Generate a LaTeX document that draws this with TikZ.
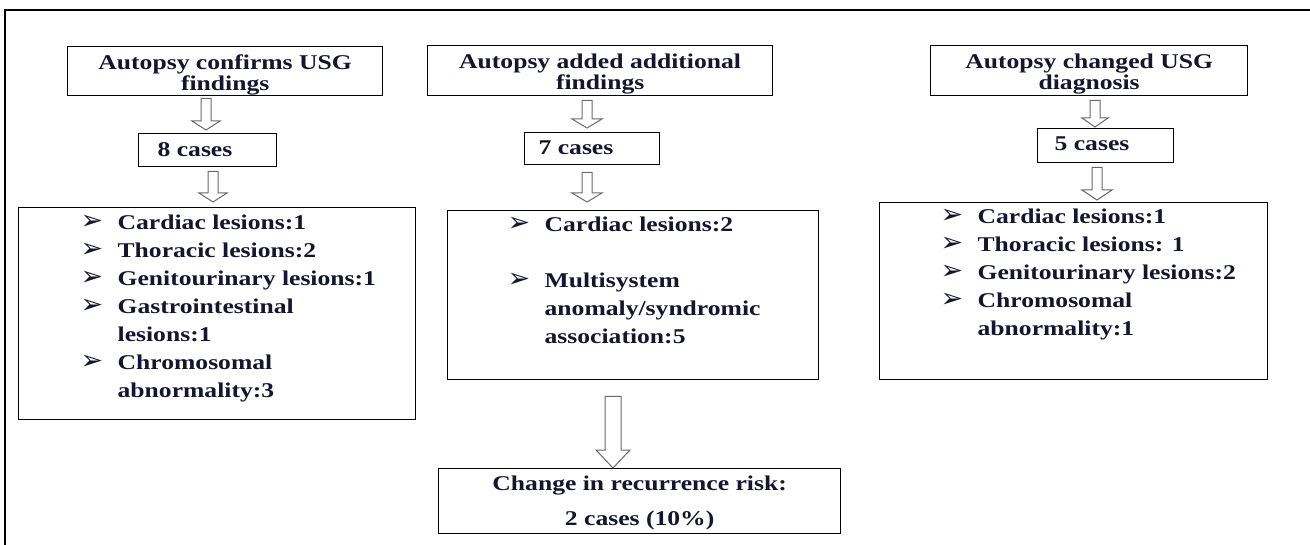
\documentclass[tikz,border=0pt]{standalone}
\usepackage{fontspec}
\setmainfont{Liberation Serif}[FakeStretch=1.22]
\newfontfamily\dingfont{DejaVu Sans}
\usetikzlibrary{calc}
\definecolor{txt}{HTML}{151530}
\definecolor{arrowline}{HTML}{6A6A6A}
\tikzset{
  box/.style={draw=black, line width=1.3pt, inner sep=0pt, anchor=north west, text=txt},
  headfont/.style={font=\bfseries\fontsize{21}{21}\selectfont},
  listfont/.style={font=\bfseries\fontsize{21}{28}\selectfont},
  hollow/.style={draw=arrowline, line width=1pt, fill=white, line join=miter},
  frame/.style={draw=black, line width=2.6pt},
}
\newcommand\bul{\makebox[37pt][l]{\dingfont\bfseries\fontsize{27}{27}\selectfont ➢}}
\newcommand\cont{\hspace*{37pt}}
% #1 style, #2 source node, #3 target node, #4 x centre, #5 gap at source,
% #6 gap at target, #7 shaft half width, #8 head half width, #9 head length
\newcommand\blockarrow[9]{%
  \draw[#1] let \p1=(#2.south), \p2=(#3.north) in
    (#4pt-#7pt,\y1-#5pt) -- (#4pt+#7pt,\y1-#5pt) -- (#4pt+#7pt,\y2+#6pt+#9pt)
    -- (#4pt+#8pt,\y2+#6pt+#9pt) -- (#4pt,\y2+#6pt) -- (#4pt-#8pt,\y2+#6pt+#9pt)
    -- (#4pt-#7pt,\y2+#6pt+#9pt) -- cycle;}
\begin{document}
\begin{tikzpicture}[x=1pt,y=-1pt]
\useasboundingbox (0,0) rectangle (1310,545);
\fill[white] (0,0) rectangle (1310,545);
\draw[frame] (1310,10) -- (5,10) -- (5,545);

% headers
\node[box, headfont] (B1) at (67,46) {\parbox[c][49pt][t]{315pt}{\centering\rule{0pt}{23pt}Autopsy confirms USG\\findings}};
\node[box, headfont] (B2) at (427,45) {\parbox[c][50pt][t]{345pt}{\centering\rule{0pt}{23pt}Autopsy added additional\\findings}};
\node[box, headfont] (B3) at (930,45) {\parbox[c][50pt][t]{317pt}{\centering\rule{0pt}{23pt}Autopsy changed USG\\diagnosis}};

% case counts
\node[box, listfont] (C1) at (138,133) {\parbox[c][33pt][t]{138pt}{\rule{0pt}{23pt}\hspace*{19pt}8 cases}};
\node[box, listfont] (C2) at (524,132) {\parbox[c][32pt][t]{135pt}{\rule{0pt}{22pt}\hspace*{14pt}7 cases}};
\node[box, listfont] (C3) at (1037,128) {\parbox[c][34pt][t]{136pt}{\rule{0pt}{22pt}\hspace*{17pt}5 cases}};

% lists
\node[box, listfont] (L1) at (18,207) {\parbox[c][212pt][t]{397pt}{\leftskip=62pt\relax
\rule{0pt}{22pt}\bul Cardiac lesions:1\\
\bul Thoracic lesions:2\\
\bul Genitourinary lesions:1\\
\bul Gastrointestinal\\
\cont lesions:1\\
\bul Chromosomal\\
\cont abnormality:3}};

\node[box, listfont] (L2) at (447,210) {\parbox[c][169pt][t]{371pt}{\leftskip=60pt\relax
\rule{0pt}{21pt}\bul Cardiac lesions:2\\[28pt]
\bul Multisystem\\
\cont anomaly/syndromic\\
\cont association:5}};

\node[box, listfont] (L3) at (879,202) {\parbox[c][177pt][t]{388pt}{\leftskip=61pt\relax
\rule{0pt}{21pt}\bul Cardiac lesions:1\\
\bul Thoracic lesions: 1\\
\bul Genitourinary lesions:2\\
\bul Chromosomal\\
\cont abnormality:1}};

% result
\node[box, font=\bfseries\fontsize{21}{35}\selectfont] (R) at (438,468) {\parbox[c][65pt][t]{402pt}{\centering\rule{0pt}{22pt}Change in recurrence risk:\\2 cases (10\%)}};

% hollow arrows
\blockarrow{hollow}{B1}{C1}{206}{2}{3}{5}{14}{9}
\blockarrow{hollow}{C1}{L1}{213}{4}{5}{5}{14}{9}
\blockarrow{hollow}{B2}{C2}{587}{4}{4}{5}{15}{9}
\blockarrow{hollow}{C2}{L2}{587}{7}{8}{5}{15}{9}
\blockarrow{hollow}{B3}{C3}{1095}{4}{1}{5}{13}{9}
\blockarrow{hollow}{C3}{L3}{1097}{4}{2}{5}{15}{10}
\blockarrow{hollow}{L2}{R}{613}{16}{0}{8}{17}{18}
\end{tikzpicture}
\end{document}
